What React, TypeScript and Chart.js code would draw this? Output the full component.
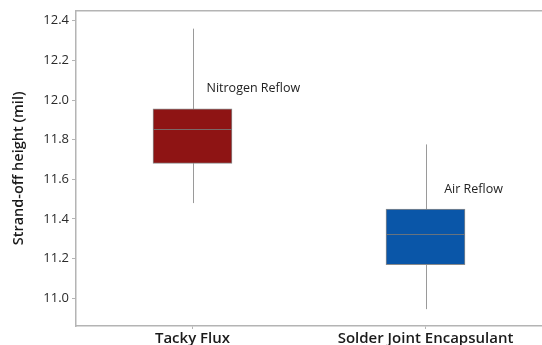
import React, { useEffect, useRef } from "react";
import { Chart, registerables } from "chart.js";

Chart.register(...registerables);

// Two process groups, five-number summaries of strand-off height (mil)
const categories = ["Tacky Flux", "Solder Joint Encapsulant"];
const categoryPositions = [1, 2];
const whiskerLow = [11.48, 10.945];
const quartile1 = [11.68, 11.17];
const medians = [11.853, 11.325];
const quartile3 = [11.956, 11.45];
const whiskerHigh = [12.36, 11.776];
const boxColors = ["#8E1414", "#0A56A8"];

// Text labels placed in data coordinates
const noteTexts = ["Nitrogen Reflow", "Air Reflow"];
const noteX = [1.06, 2.08];
const noteY = [12.06, 11.55];

const FONT = "'Open Sans', 'Noto Sans', sans-serif";

const boxExtras = {
  id: "boxExtras",
  beforeDatasetsDraw(chart: any) {
    const { ctx, scales } = chart;
    const x = scales.x;
    const y = scales.y;
    ctx.save();
    ctx.strokeStyle = "#9a9a9a";
    ctx.lineWidth = 1;
    categoryPositions.forEach((pos, i) => {
      const px = Math.round(x.getPixelForValue(pos)) + 0.5;
      ctx.beginPath();
      ctx.moveTo(px, y.getPixelForValue(whiskerHigh[i]));
      ctx.lineTo(px, y.getPixelForValue(whiskerLow[i]));
      ctx.stroke();
    });
    ctx.restore();
  },
  afterDatasetsDraw(chart: any) {
    const { ctx, scales, chartArea } = chart;
    const x = scales.x;
    const y = scales.y;
    const meta = chart.getDatasetMeta(0);
    ctx.save();
    // medians
    ctx.strokeStyle = "rgba(120,120,120,0.85)";
    ctx.lineWidth = 1;
    meta.data.forEach((bar: any, i: number) => {
      const half = bar.width / 2;
      const py = Math.round(y.getPixelForValue(medians[i])) + 0.5;
      ctx.beginPath();
      ctx.moveTo(bar.x - half, py);
      ctx.lineTo(bar.x + half, py);
      ctx.stroke();
    });
    // top frame line
    ctx.strokeStyle = "#b4b4b4";
    ctx.lineWidth = 1.5;
    ctx.beginPath();
    ctx.moveTo(chartArea.left, chartArea.top);
    ctx.lineTo(chartArea.right, chartArea.top);
    ctx.stroke();
    // annotations
    ctx.fillStyle = "#222";
    ctx.font = `12.5px ${FONT}`;
    ctx.textAlign = "left";
    ctx.textBaseline = "middle";
    noteTexts.forEach((t, i) => {
      ctx.fillText(t, x.getPixelForValue(noteX[i]), y.getPixelForValue(noteY[i]));
    });
    ctx.restore();
  },
};

export default function App() {
  const ref = useRef<HTMLCanvasElement | null>(null);

  useEffect(() => {
    document.body.style.margin = "0";
    document.body.style.overflow = "hidden";
    const canvas = ref.current;
    if (!canvas) return;
    const chart = new Chart(canvas, {
      type: "bar",
      data: {
        datasets: [
          {
            data: categoryPositions.map((p, i) => ({ x: p, y: [quartile1[i], quartile3[i]] })) as any,
            backgroundColor: boxColors,
            borderColor: "#8a8a8a",
            borderWidth: 1,
            borderSkipped: false,
            barThickness: 79,
          },
        ],
      },
      options: {
        responsive: false,
        animation: false,
        events: [],
        // plot frame runs past the right edge of the canvas
        layout: { padding: { top: 8, right: -8, bottom: 0, left: 0 } },
        plugins: {
          legend: { display: false },
          tooltip: { enabled: false },
        },
        scales: {
          x: {
            type: "linear",
            offset: false,
            min: 0.5,
            max: 2.5,
            afterBuildTicks(scale: any) {
              scale.ticks = categoryPositions.map((v) => ({ value: v }));
            },
            afterFit(scale: any) {
              scale.height = 19;
            },
            ticks: {
              callback: (v: any) => {
                const i = categoryPositions.indexOf(Number(v));
                return i >= 0 ? categories[i] : "";
              },
              color: "#1a1a1a",
              font: { family: FONT, size: 15, weight: "600" },
              padding: 1,
              maxRotation: 0,
              autoSkip: false,
            },
            grid: { offset: false, drawOnChartArea: false, drawTicks: true, tickLength: 3, color: "#b4b4b4" },
            border: { display: true, color: "#b4b4b4", width: 1.5 },
          },
          y: {
            min: 10.86,
            max: 12.45,
            afterBuildTicks(scale: any) {
              scale.ticks = [11.0, 11.2, 11.4, 11.6, 11.8, 12.0, 12.2, 12.4].map((v) => ({ value: v }));
            },
            afterFit(scale: any) {
              scale.width = 76;
            },
            ticks: {
              callback: (v: any) => Number(v).toFixed(1),
              color: "#2a2a2a",
              font: { family: FONT, size: 13 },
              padding: 3,
            },
            grid: { drawOnChartArea: false, drawTicks: true, tickLength: 4, color: "#b4b4b4" },
            border: { display: true, color: "#b4b4b4", width: 1.5 },
            title: {
              display: true,
              text: "Strand-off height (mil)",
              color: "#1a1a1a",
              font: { family: FONT, size: 14.5, weight: "600" },
              padding: { top: 10, bottom: 0 },
            },
          },
        },
      },
      plugins: [boxExtras],
    });
    return () => chart.destroy();
  }, []);

  return <canvas ref={ref} width={542} height={345} style={{ display: "block" }} />;
}
